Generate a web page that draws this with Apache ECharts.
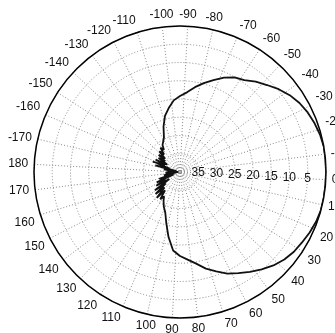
<!DOCTYPE html>
<html><head><meta charset="utf-8">
<script src="https://cdn.jsdelivr.net/npm/echarts@6/dist/echarts.min.js"></script>
<style>html,body{margin:0;padding:0;background:#fff}#c{width:335px;height:333px}</style>
</head><body><div id="c"></div>
<script>
// Pattern angles (degrees, -180..180, chart frame) and level (dB down; 0 = outer ring, 40 = center)
var angles = [-180,-177,-174,-171,-168,-165,-162,-159,-156,-153,-150,-147,-144,-141,-138,-135,-132,-129,-126,
  -123,-118,-113,-108,-103,-98,-93,-88,-83,-78,-73,-68,-63,-58,-53,-48,-43,-38,-33,-28,-23,-18,-13,-8,
  -3,2,7,12,17,22,27,32,37,42,47,52,57,62,67,72,77,82,87,92,97,102,107,112,
  117,120,123,126,129,132,135,138,141,144,147,150,153,156,159,162,165,168,171,174,177,180];
var levels = [36.5,38.5,35.5,39.0,33.0,37.0,32.0,35.5,32.5,36.0,33.0,35.0,32.5,34.5,32.0,33.5,31.5,32.5,31.2,
  31.0,29.6,26.8,24.1,22.2,20.3,19.2,18.1,16.4,14.8,13.2,11.5,10.1,9.3,7.7,6.3,4.7,3.3,2.2,1.4,0.8,0.3,0.0,0.0,
  0.0,0.0,0.0,0.0,0.3,0.8,1.4,1.9,2.7,3.8,5.2,6.6,8.0,9.3,11.0,12.6,14.5,15.9,17.0,18.4,21.9,25.5,28.2,29.5,
  31.0,32.0,30.8,33.5,30.5,34.0,31.0,35.0,31.5,36.5,32.5,35.5,33.0,38.0,34.0,38.5,35.5,37.0,39.0,36.0,39.5,36.5];
var radiusTicks = [5,10,15,20,25,30,35];

var data = angles.map(function(a, i){ return [levels[i], (a + 360) % 360]; });

var chart = echarts.init(document.getElementById('c'), null, {renderer:'canvas'});
chart.setOption({
  animation:false,
  backgroundColor:'#fff',
  polar:{center:[180,172], radius:146},
  angleAxis:{
    type:'value', min:0, max:360, interval:10, startAngle:-3, clockwise:true,
    axisLine:{show:true, lineStyle:{color:'#000', width:1.5}},
    axisTick:{show:false},
    axisLabel:{show:true, margin:6, color:'#111', fontSize:12, fontFamily:'Liberation Sans, Arial, sans-serif',
      formatter:function(v){ v = Math.round(v); if (v === 360) return ''; return String(v > 180 ? v - 360 : v); }},
    splitLine:{show:true, lineStyle:{color:'#8a8a8a', width:1, type:[1,2]}}
  },
  radiusAxis:{
    type:'value', min:0, max:40, interval:5, inverse:true,
    axisLine:{show:false}, axisTick:{show:false},
    axisLabel:{show:true, margin:0, align:'center', verticalAlign:'middle', color:'#111', fontSize:12,
      fontFamily:'Liberation Sans, Arial, sans-serif',
      formatter:function(v){ return radiusTicks.indexOf(Math.round(v)) >= 0 ? String(Math.round(v)) : ''; }},
    splitLine:{show:true, lineStyle:{color:'#8a8a8a', width:1, type:[1,2]}}
  },
  series:[{
    type:'line', coordinateSystem:'polar', data:data, symbol:'none', smooth:false,
    lineStyle:{color:'#111', width:1.8}, z:5
  }]
});
</script></body></html>
